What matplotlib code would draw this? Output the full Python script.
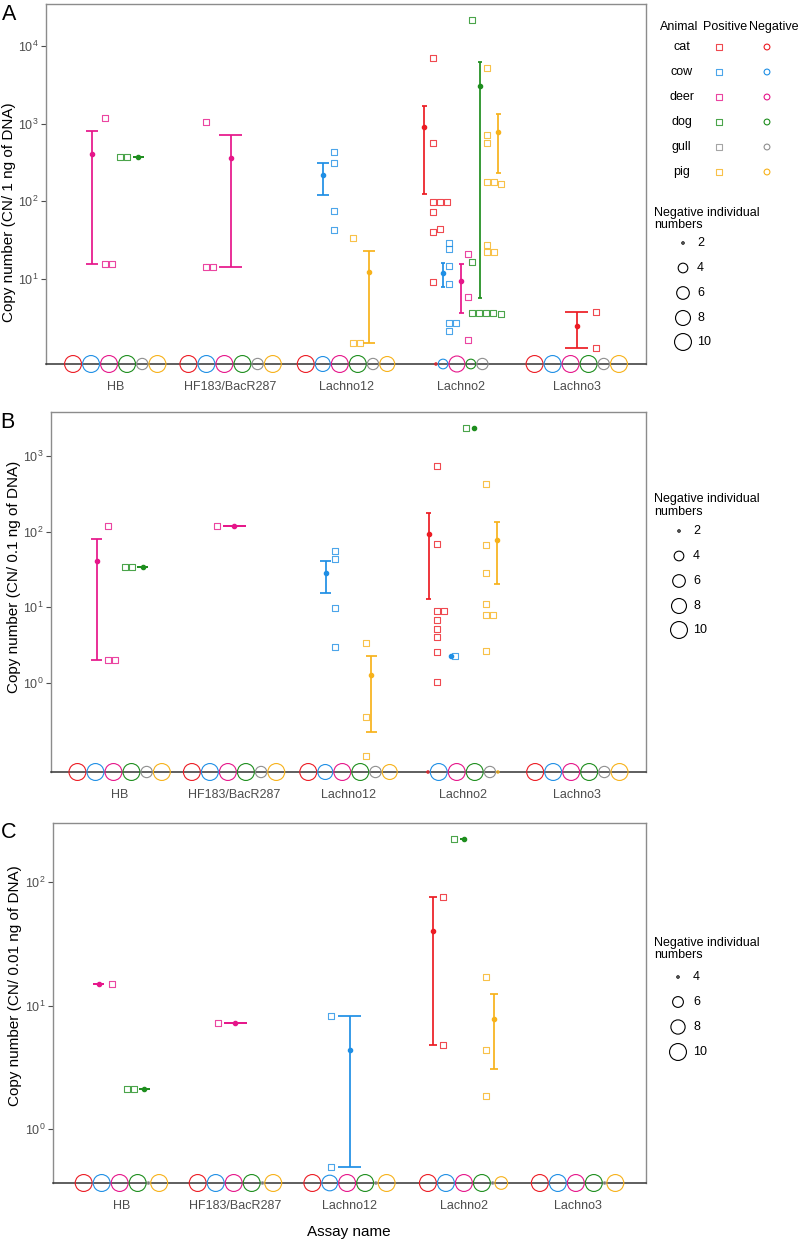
import numpy as np
import matplotlib.pyplot as plt
from matplotlib.ticker import NullLocator

plt.rcParams['font.family'] = ['Liberation Sans', 'DejaVu Sans']
plt.rcParams['mathtext.fontset'] = 'custom'
plt.rcParams['mathtext.rm'] = 'Liberation Sans'

assays = ['HB', 'HF183/BacR287', 'Lachno12', 'Lachno2', 'Lachno3']
animals = ['cat', 'cow', 'deer', 'dog', 'gull', 'pig']
colors = ['#EC1C24', '#1F8FE5', '#E6168A', '#1E8E1E', '#8F8F8F', '#F7B21B']

# ---- panel A: CN / 1 ng of DNA ----
groups_a = [('HB', 'deer'), ('HB', 'dog'), ('HF183/BacR287', 'deer'),
            ('Lachno12', 'cow'), ('Lachno12', 'pig'),
            ('Lachno2', 'cat'), ('Lachno2', 'cow'), ('Lachno2', 'deer'),
            ('Lachno2', 'dog'), ('Lachno2', 'pig'), ('Lachno3', 'cat')]
values_a = [[1200, 15.5, 15.5], [375, 375], [1060, 14.4, 14.4],
            [431, 315, 76, 42.4], [34, 1.5, 1.5],
            [7060, 558, 99, 99, 99, 73, 39.9, 44.5, 9.2],
            [28.8, 24.2, 14.7, 8.55, 2.7, 2.7, 2.16],
            [21, 5.9, 1.64],
            [21600, 16.4, 3.7, 3.7, 3.6, 3.6, 3.5],
            [5160, 714, 569, 179, 179, 167, 27.4, 22.1, 22.1],
            [3.73, 1.31]]
neg_a = [[10, 10, 10, 10, 5, 10],
         [10, 10, 10, 10, 5, 10],
         [10, 8, 10, 10, 5, 8],
         [2, 4, 9, 4, 5, 0],
         [10, 10, 10, 10, 5, 10]]

# ---- panel B: CN / 0.1 ng of DNA ----
groups_b = [('HB', 'deer'), ('HB', 'dog'), ('HF183/BacR287', 'deer'),
            ('Lachno12', 'cow'), ('Lachno12', 'pig'),
            ('Lachno2', 'cat'), ('Lachno2', 'cow'), ('Lachno2', 'dog'),
            ('Lachno2', 'pig')]
values_b = [[120, 2.03, 2.03], [34.4, 34.4], [118],
            [56, 44, 9.7, 3.02], [3.34, 0.352, 0.108],
            [738, 68.7, 8.96, 8.96, 6.8, 5.13, 4.1, 2.6, 1.04],
            [2.27], [2323],
            [422, 66, 28.7, 11.1, 7.9, 7.9, 2.67]]
neg_b = [[10, 10, 10, 10, 5, 10],
         [10, 10, 10, 10, 5, 10],
         [10, 8, 10, 10, 5, 8],
         [2, 10, 10, 10, 5, 2],
         [10, 10, 10, 10, 5, 10]]

# ---- panel C: CN / 0.01 ng of DNA ----
groups_c = [('HB', 'deer'), ('HB', 'dog'), ('HF183/BacR287', 'deer'),
            ('Lachno12', 'cow'), ('Lachno2', 'cat'), ('Lachno2', 'dog'),
            ('Lachno2', 'pig')]
values_c = [[14.9], [2.11, 2.11], [7.18], [8.22, 0.49], [76, 4.82], [222],
            [17.1, 4.34, 1.84]]
neg_c = [[10, 10, 10, 10, 4, 10],
         [10, 10, 10, 10, 4, 10],
         [10, 9, 10, 10, 4, 10],
         [10, 10, 10, 10, 4, 7],
         [10, 10, 10, 10, 4, 10]]

breaks_ab = [2, 4, 6, 8, 10]
breaks_c = [4, 6, 8, 10]

# ---- layout (pixels) ----
W, H, DPI = 799, 1241, 100
# horizontal nudges of the positive points (beeswarm layer), in category units
nudge_a = {('HB', 'deer'): -0.088, ('HB', 'dog'): 0.042,
           ('HF183/BacR287', 'deer'): -0.213,
           ('Lachno12', 'cow'): -0.104, ('Lachno12', 'pig'): 0.06,
           ('Lachno2', 'cat'): -0.246, ('Lachno2', 'cow'): -0.107,
           ('Lachno2', 'deer'): 0.053, ('Lachno2', 'dog'): 0.09,
           ('Lachno2', 'pig'): 0.22, ('Lachno3', 'cat'): 0.166}
nudge_b = {('HB', 'deer'): -0.105, ('HB', 'dog'): 0.044,
           ('HF183/BacR287', 'deer'): -0.152,
           ('Lachno12', 'cow'): -0.118, ('Lachno12', 'pig'): 0.15,
           ('Lachno2', 'cat'): -0.225, ('Lachno2', 'cow'): -0.07,
           ('Lachno2', 'dog'): 0.024, ('Lachno2', 'pig'): 0.2}
nudge_c = {('HB', 'deer'): -0.082, ('HB', 'dog'): 0.049,
           ('HF183/BacR287', 'deer'): -0.153,
           ('Lachno12', 'cow'): -0.164,
           ('Lachno2', 'cat'): -0.176, ('Lachno2', 'dog'): -0.088,
           ('Lachno2', 'pig'): 0.197}

fig = plt.figure(figsize=(W / DPI, H / DPI), dpi=DPI)
ov = fig.add_axes([0, 0, 1, 1], zorder=-1)
ov.set_xlim(0, W)
ov.set_ylim(H, 0)
ov.axis('off')

PT = 72.0 / DPI
SQ = 6.0  # square side, px


def diam(v, lo, hi):
    return 3.5 + 14.5 * np.sqrt((v - lo) / (hi - lo))


def swarm(base, vals, step, dec_px, sq_px=7.0):
    placed, xs = [], []
    for v in vals:
        y = np.log10(v) * dec_px
        k = 0
        while any(pk == k and abs(y - py) < 0.8 * sq_px for py, pk in placed):
            k += 1
        placed.append((y, k))
        xs.append(base + k * step)
    return xs


def panel(box, ylim, yticks, groups, values, neg, nudge, brk):
    l, t, r, b = box
    ax = fig.add_axes([l / W, 1 - b / H, (r - l) / W, (b - t) / H])
    ax.set_yscale('log')
    ax.set_xlim(-0.6, 4.6)
    ax.set_ylim(*ylim)
    upx = 5.2 / (r - l)
    dec_px = (b - t) / np.log10(ylim[1] / ylim[0])
    lo, hi = brk[0], brk[-1]

    # negative individuals: packed circles on the baseline
    for i, row in enumerate(neg):
        d = [diam(n, lo, hi) if n > 0 else 0 for n in row]
        start = i - sum(d) / 2 * upx
        cum = 0
        for j, n in enumerate(row):
            if n == 0:
                continue
            xc = start + (cum + d[j] / 2) * upx
            cum += d[j]
            ax.scatter([xc], [ylim[0]], s=((d[j] - 1.1) * PT) ** 2,
                       facecolors='none', edgecolors=colors[j],
                       linewidths=0.8, clip_on=False, zorder=3)

    # positive samples: squares + mean +- se
    for i, a in enumerate(assays):
        present = [an for an in animals if (a, an) in groups]
        n = len(present)
        for k, an in enumerate(present):
            vals = np.array(values[groups.index((a, an))], dtype=float)
            c = colors[animals.index(an)]
            xs = swarm(i + nudge[(a, an)], vals, 7.2 * upx, dec_px)
            ax.scatter(xs, vals, marker='s', s=(SQ * PT) ** 2,
                       facecolors='none', edgecolors=c, alpha=0.8,
                       linewidths=0.8, zorder=4)
            m = vals.mean()
            se = vals.std(ddof=1) / np.sqrt(len(vals)) if len(vals) > 1 else 0.0
            ymin = max(m - se, ylim[0])
            xe = i + (k - (n - 1) / 2) * 0.8 / n
            hw = 0.1 / n
            ax.vlines(xe, ymin, m + se, color=c, lw=1.25, zorder=5)
            ax.hlines([ymin, m + se], xe - hw, xe + hw, color=c, lw=1.25, zorder=5)
            ax.plot([xe], [m], 'o', ms=3.0, color=c, zorder=6)

    for s in ['top', 'left', 'right']:
        ax.spines[s].set_color('#8C8C8C')
        ax.spines[s].set_linewidth(1.0)
    ax.spines['bottom'].set_color('#333333')
    ax.spines['bottom'].set_linewidth(1.1)
    ax.set_xticks(range(len(assays)))
    ax.set_xticklabels(assays, color='#4D4D4D', fontsize=9)
    ax.tick_params(axis='x', length=0, pad=12.5)
    ax.set_yticks(yticks)
    ax.set_yticklabels([r'$\mathregular{10^{%d}}$' % round(np.log10(v)) for v in yticks])
    ax.yaxis.set_minor_locator(NullLocator())
    ax.tick_params(axis='y', length=3.5, width=0.8, color='#4D4D4D',
                   labelcolor='#4D4D4D', labelsize=9, pad=2)
    return ax


def size_legend(y_title, ys, cx, lx, brk):
    ov.text(654, y_title, 'Negative individual\nnumbers', ha='left', va='center',
            fontsize=9, linespacing=1.05)
    for v, y in zip(brk, ys):
        d = diam(v, brk[0], brk[-1])
        ov.scatter([cx], [y], s=((d - 1.1) * PT) ** 2, facecolors='none',
                   edgecolors='black', linewidths=0.8)
        ov.text(lx, y, str(v), ha='left', va='center', fontsize=9)


panel((46, 4, 646, 364), (0.805, 34750), [10, 100, 1000, 10000],
      groups_a, values_a, neg_a, nudge_a, breaks_ab)
panel((51, 412, 646, 772), (0.0667, 3810), [1, 10, 100, 1000],
      groups_b, values_b, neg_b, nudge_b, breaks_ab)
panel((53, 823, 646, 1183), (0.366, 300), [1, 10, 100],
      groups_c, values_c, neg_c, nudge_c, breaks_c)

# panel letters and axis titles
for letter, (x, y) in zip('ABC', [(9, 14.5), (7.5, 422), (8.5, 832)]):
    ov.text(x, y, letter, ha='center', va='center', fontsize=15.5)
ylabels = ['Copy number (CN/ 1 ng of DNA)', 'Copy number (CN/ 0.1 ng of DNA)',
           'Copy number (CN/ 0.01 ng of DNA)']
for lab, (x, y) in zip(ylabels, [(9.5, 212), (14.5, 577), (15, 986)]):
    ov.text(x, y, lab, rotation=90, ha='center', va='center', fontsize=11)
ov.text(349, 1232, 'Assay name', ha='center', va='center', fontsize=11)

# animal legend (panel A)
ov.text(679.5, 27, 'Animal', ha='center', va='center', fontsize=9)
ov.text(725, 27, 'Positive', ha='center', va='center', fontsize=9)
ov.text(774, 27, 'Negative', ha='center', va='center', fontsize=9)
for j, an in enumerate(animals):
    y = 47 + 25 * j
    ov.text(681.5, y, an, ha='center', va='center', fontsize=9)
    ov.scatter([719], [y], marker='s', s=(SQ * PT) ** 2, facecolors='none',
               edgecolors=colors[j], alpha=0.8, linewidths=0.8)
    ov.scatter([767], [y], marker='o', s=(5.8 * PT) ** 2, facecolors='none',
               edgecolors=colors[j], linewidths=0.8)

size_legend(219, [243, 268, 293, 318, 342], 683, 697, breaks_ab)
size_legend(505.5, [531, 556, 581, 606, 630], 679, 693, breaks_ab)
size_legend(949, [977, 1002, 1027, 1052], 678, 693, breaks_c)

fig.savefig('out.png', dpi=DPI)
